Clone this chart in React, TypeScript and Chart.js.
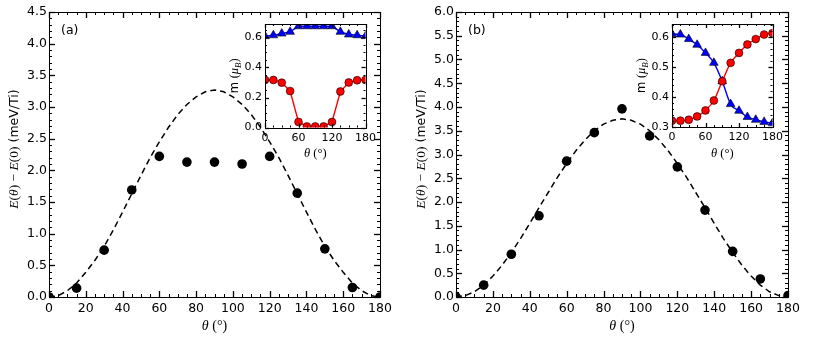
import React, { useEffect, useRef } from "react";
import { Chart, registerables } from "chart.js";
Chart.register(...registerables);

// ---------- data ----------
const thetaMain = [0, 15, 30, 45, 60, 75, 90, 105, 120, 135, 150, 165, 180];
const energyA = [0, 0.14, 0.74, 1.69, 2.22, 2.13, 2.13, 2.1, 2.22, 1.64, 0.76, 0.15, 0.0];
const energyB = [0, 0.25, 0.9, 1.71, 2.86, 3.46, 3.96, 3.39, 2.74, 1.83, 0.96, 0.38, 0.03];

const fitTheta = [0, 5, 10, 15, 20, 25, 30, 35, 40, 45, 50, 55, 60, 65, 70, 75, 80, 85, 90,
  95, 100, 105, 110, 115, 120, 125, 130, 135, 140, 145, 150, 155, 160, 165, 170, 175, 180];
const fitA = [0, 0.02, 0.1, 0.22, 0.39, 0.58, 0.8, 1.06, 1.34, 1.63, 1.92, 2.2, 2.45, 2.68, 2.88, 3.04, 3.16, 3.24, 3.27,
  3.24, 3.16, 3.04, 2.88, 2.68, 2.45, 2.2, 1.92, 1.63, 1.34, 1.06, 0.8, 0.58, 0.39, 0.22, 0.1, 0.02, 0];
const fitB = [0, 0.03, 0.11, 0.25, 0.44, 0.67, 0.94, 1.23, 1.55, 1.88, 2.2, 2.52, 2.81, 3.08, 3.31, 3.5, 3.64, 3.72, 3.75,
  3.72, 3.64, 3.5, 3.31, 3.08, 2.81, 2.52, 2.2, 1.88, 1.55, 1.23, 0.94, 0.67, 0.44, 0.25, 0.11, 0.03, 0];

const thetaInset = [0, 15, 30, 45, 60, 75, 90, 105, 120, 135, 150, 165, 180];
const mBlueA = [0.609, 0.615, 0.626, 0.638, 0.675, 0.675, 0.675, 0.675, 0.675, 0.638, 0.62, 0.615, 0.609];
const mRedA = [0.317, 0.317, 0.299, 0.243, 0.037, 0.007, 0.007, 0.007, 0.037, 0.24, 0.3, 0.315, 0.317];
const mBlueB = [0.609, 0.607, 0.592, 0.573, 0.546, 0.513, 0.452, 0.376, 0.354, 0.333, 0.324, 0.317, 0.313];
const mRedB = [0.321, 0.321, 0.324, 0.335, 0.355, 0.388, 0.452, 0.513, 0.546, 0.574, 0.592, 0.607, 0.612];

const mainXTicks = 20;
const mainYTicks = 0.5;
const insetXTicks = 60;

// ---------- helpers ----------
type Seg = { t: string; f: string; dy?: number };

function drawRich(ctx: CanvasRenderingContext2D, segs: Seg[], cx: number, cy: number, rot: boolean, base: number) {
  ctx.save();
  ctx.translate(cx, cy);
  if (rot) ctx.rotate(-Math.PI / 2);
  let total = 0;
  const ws = segs.map((s) => {
    ctx.font = s.f;
    const w = ctx.measureText(s.t).width;
    total += w;
    return w;
  });
  let x = -total / 2;
  ctx.textBaseline = "alphabetic";
  ctx.textAlign = "left";
  ctx.fillStyle = "#000";
  segs.forEach((s, i) => {
    ctx.font = s.f;
    ctx.fillText(s.t, x, base + (s.dy || 0));
    x += ws[i];
  });
  ctx.restore();
}

function frameTicksPlugin(opts: {
  xMinor: number; yMinor: number; major: number; minor: number;
  xTitle: Seg[]; xTitleY: number; yTitle: Seg[]; yTitleX: number; yTitleY?: number;
  label?: string; labelX?: number; labelY?: number; labelFont?: string; base: number; white?: boolean;
}) {
  return {
    id: "frameTicks",
    beforeDraw(chart: any) {
      if (!opts.white) return;
      const { ctx, chartArea: a } = chart;
      ctx.save();
      ctx.fillStyle = "#fff";
      ctx.fillRect(a.left, a.top, a.right - a.left, a.bottom - a.top);
      ctx.restore();
    },
    afterDraw(chart: any) {
      const { ctx, chartArea: a, scales } = chart;
      const xs = scales.x, ys = scales.y;
      ctx.save();
      ctx.strokeStyle = "#000";
      ctx.lineWidth = 1;
      const line = (x1: number, y1: number, x2: number, y2: number) => {
        ctx.beginPath();
        ctx.moveTo(x1, y1);
        ctx.lineTo(x2, y2);
        ctx.stroke();
      };
      const xTick = (v: number, len: number) => {
        const p = Math.round(xs.getPixelForValue(v)) + 0.5;
        line(p, a.bottom, p, a.bottom - len);
        line(p, a.top, p, a.top + len);
      };
      const yTick = (v: number, len: number) => {
        const p = Math.round(ys.getPixelForValue(v)) + 0.5;
        line(a.left, p, a.left + len, p);
        line(a.right, p, a.right - len, p);
      };
      for (let i = 0; ; i++) {
        const v = xs.min + i * opts.xMinor;
        if (v > xs.max + 1e-9) break;
        xTick(v, opts.minor);
      }
      for (let i = 0; ; i++) {
        const v = ys.min + i * opts.yMinor;
        if (v > ys.max + 1e-9) break;
        yTick(v, opts.minor);
      }
      ctx.lineWidth = 1.3;
      xs.ticks.forEach((t: any) => xTick(t.value, opts.major));
      ys.ticks.forEach((t: any) => yTick(t.value, opts.major));
      ctx.lineWidth = 1;
      ctx.strokeRect(Math.round(a.left) + 0.5, Math.round(a.top) + 0.5,
        Math.round(a.right - a.left), Math.round(a.bottom - a.top));
      ctx.restore();
      drawRich(ctx, opts.xTitle, (a.left + a.right) / 2, opts.xTitleY, false, opts.base);
      drawRich(ctx, opts.yTitle, opts.yTitleX, opts.yTitleY ?? (a.top + a.bottom) / 2, true, opts.base);
      if (opts.label) {
        ctx.save();
        ctx.font = opts.labelFont || '12.5px "DejaVu Sans"';
        ctx.fillStyle = "#000";
        ctx.textBaseline = "middle";
        ctx.textAlign = "left";
        ctx.fillText(opts.label, opts.labelX!, opts.labelY!);
        ctx.restore();
      }
    },
  };
}

const SERIF = '"Liberation Serif"';
const mathTitleX = (size: number): Seg[] => [
  { t: "θ", f: `italic ${size}px ${SERIF}` },
  { t: " (°)", f: `${size}px ${SERIF}` },
];
const mainYTitle: Seg[] = [
  { t: "E", f: `italic 13.5px ${SERIF}` },
  { t: "(", f: `13.5px ${SERIF}` },
  { t: "θ", f: `italic 13.5px ${SERIF}` },
  { t: ") − ", f: `13.5px ${SERIF}` },
  { t: "E", f: `italic 13.5px ${SERIF}` },
  { t: "(0)", f: `13.5px ${SERIF}` },
  { t: " (meV/Ti)", f: '12.5px "DejaVu Sans"' },
];
const insetYTitle: Seg[] = [
  { t: "m ", f: '11.5px "DejaVu Sans"' },
  { t: "(", f: `12.5px ${SERIF}` },
  { t: "μ", f: `italic 12.5px ${SERIF}` },
  { t: "B", f: `italic 9px ${SERIF}`, dy: 2.5 },
  { t: ")", f: `12.5px ${SERIF}` },
];

function mainConfig(energy: number[], fit: number[], ymax: number, label: string, padRight: number): any {
  const tickFont = { family: "DejaVu Sans", size: 12.5 };
  return {
    type: "scatter",
    data: {
      datasets: [
        {
          type: "line",
          data: fitTheta.map((t, i) => ({ x: t, y: fit[i] })),
          borderColor: "#000",
          borderWidth: 1.5,
          borderDash: [6, 4],
          pointRadius: 0,
          fill: false,
          tension: 0,
          order: 1,
        },
        {
          type: "scatter",
          data: thetaMain.map((t, i) => ({ x: t, y: energy[i] })),
          backgroundColor: "#000",
          borderColor: "#000",
          borderWidth: 0,
          pointRadius: 4.8,
          order: 0,
        },
      ],
    },
    options: {
      responsive: false,
      animation: false,
      devicePixelRatio: 1,
      layout: { padding: { left: 0, top: 12, right: padRight, bottom: 0 } },
      plugins: { legend: { display: false }, tooltip: { enabled: false } },
      scales: {
        x: {
          type: "linear", min: 0, max: 180,
          grid: { display: false, drawTicks: false }, border: { display: false },
          ticks: { stepSize: mainXTicks, font: tickFont, color: "#000", padding: 4, maxRotation: 0, autoSkip: false },
          afterFit: (s: any) => { s.height = 42; },
        },
        y: {
          type: "linear", min: 0, max: ymax,
          grid: { display: false, drawTicks: false }, border: { display: false },
          ticks: { stepSize: mainYTicks, font: tickFont, color: "#000", padding: 2, callback: (v: any) => Number(v).toFixed(1) },
          afterFit: (s: any) => { s.width = 49; },
        },
      },
    },
    plugins: [
      frameTicksPlugin({
        xMinor: 5, yMinor: 0.1, major: 6, minor: 3,
        xTitle: mathTitleX(14), xTitleY: 325, yTitle: mainYTitle, yTitleX: 13, yTitleY: 149,
        label, labelX: 61, labelY: 31, base: 4.5,
      }),
    ],
  };
}

function insetConfig(blue: number[], red: number[], ymin: number, ymax: number, ystep: number, yminor: number,
  padRight: number, xHeight: number, smooth: boolean): any {
  const tickFont = { family: "DejaVu Sans", size: 11 };
  return {
    type: "line",
    data: {
      datasets: [
        {
          data: thetaInset.map((t, i) => ({ x: t, y: blue[i] })),
          borderColor: "#0000ff",
          borderWidth: 1.4,
          backgroundColor: "#0000ff",
          pointBackgroundColor: "#0000ff",
          pointBorderColor: "#000",
          pointBorderWidth: 0.6,
          pointStyle: "triangle",
          pointRadius: 5,
          cubicInterpolationMode: smooth ? "monotone" : "default",
          tension: 0,
          order: 1,
        },
        {
          data: thetaInset.map((t, i) => ({ x: t, y: red[i] })),
          borderColor: "#ff0000",
          borderWidth: 1.4,
          backgroundColor: "#ff0000",
          pointBackgroundColor: "#ff0000",
          pointBorderColor: "#000",
          pointBorderWidth: 0.6,
          pointStyle: "circle",
          pointRadius: 3.9,
          cubicInterpolationMode: smooth ? "monotone" : "default",
          tension: 0,
          order: 0,
        },
      ],
    },
    options: {
      responsive: false,
      animation: false,
      devicePixelRatio: 1,
      layout: { padding: { left: 0, top: 10, right: padRight, bottom: 0 } },
      plugins: { legend: { display: false }, tooltip: { enabled: false } },
      scales: {
        x: {
          type: "linear", min: 0, max: 180,
          grid: { display: false, drawTicks: false }, border: { display: false },
          ticks: { stepSize: insetXTicks, font: tickFont, color: "#000", padding: 4, maxRotation: 0, autoSkip: false },
          afterFit: (s: any) => { s.height = xHeight; },
        },
        y: {
          type: "linear", min: ymin, max: ymax,
          grid: { display: false, drawTicks: false }, border: { display: false },
          ticks: { stepSize: ystep, font: tickFont, color: "#000", padding: 3, callback: (v: any) => Number(v).toFixed(1) },
          afterBuildTicks: (s: any) => {
            s.ticks = s.ticks.filter((t: any) => {
              const k = (t.value - ymin) / ystep;
              return Math.abs(k - Math.round(k)) < 1e-6;
            });
          },
          afterFit: (s: any) => { s.width = 45; },
        },
      },
    },
    plugins: [
      frameTicksPlugin({
        xMinor: 15, yMinor: yminor, major: 4, minor: 2,
        xTitle: mathTitleX(12.5), xTitleY: 139, yTitle: insetYTitle, yTitleX: 14,
        base: 4, white: true,
      }),
    ],
  };
}

export default function App() {
  const a = useRef<HTMLCanvasElement>(null);
  const b = useRef<HTMLCanvasElement>(null);
  const ia = useRef<HTMLCanvasElement>(null);
  const ib = useRef<HTMLCanvasElement>(null);

  useEffect(() => {
    const charts = [
      new Chart(a.current!, mainConfig(energyA, fitA, 4.5, "(a)", 27)),
      new Chart(b.current!, mainConfig(energyB, fitB, 6.0, "(b)", 26)),
      new Chart(ia.current!, insetConfig(mBlueA, mRedA, 0, 0.69, 0.2, 0.05, 13, 36.5, false)),
      new Chart(ib.current!, insetConfig(mBlueB, mRedB, 0.3, 0.642, 0.1, 0.02, 14.5, 37, true)),
    ];
    return () => charts.forEach((c) => c.destroy());
  }, []);

  const abs = (l: number, t: number, w: number, h: number): React.CSSProperties => ({
    position: "absolute", left: l, top: t, width: w, height: h,
  });

  return (
    <div style={{ position: "absolute", left: 0, top: 0, width: 814, height: 339, background: "#fff" }}>
      <canvas ref={a} width={407} height={339} style={abs(0, 0, 407, 339)} />
      <canvas ref={b} width={407} height={339} style={abs(407, 0, 407, 339)} />
      <canvas ref={ia} width={160} height={150} style={abs(220, 14, 160, 150)} />
      <canvas ref={ib} width={160} height={150} style={abs(627, 14, 160, 150)} />
    </div>
  );
}
